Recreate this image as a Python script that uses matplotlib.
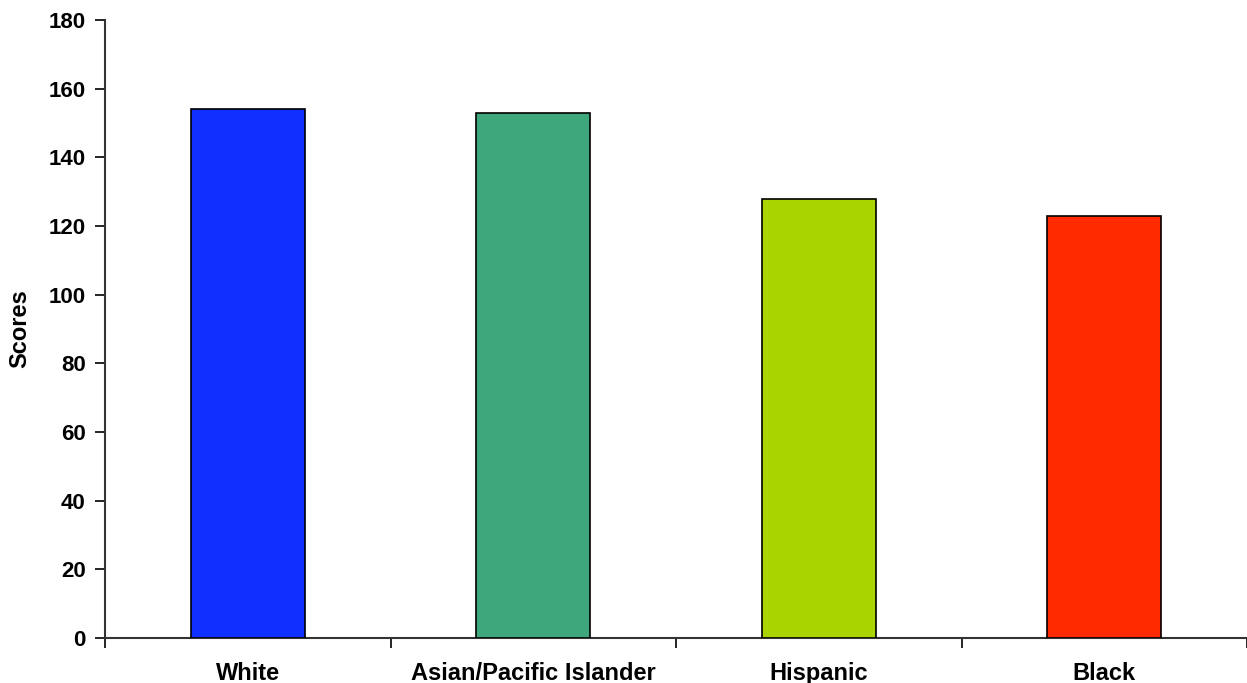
import matplotlib
matplotlib.use("Agg")
import matplotlib.pyplot as plt
from matplotlib.ticker import FixedLocator, NullFormatter

categories = ["White", "Asian/Pacific Islander", "Hispanic", "Black"]
scores = [154, 153, 128, 123]
colors = ["#1030FF", "#3FA77C", "#AAD400", "#FF2A00"]
yticks = [0, 20, 40, 60, 80, 100, 120, 140, 160, 180]

plt.rcParams["font.family"] = ["Liberation Sans", "DejaVu Sans"]

fig = plt.figure(figsize=(12.47, 6.83), dpi=100)
ax = fig.add_axes([105 / 1247, 1 - 638 / 683, 1 - 105 / 1247, (638 - 20) / 683])

pos = [i + 0.5 for i in range(len(categories))]
ax.bar(pos, scores, width=0.4, color=colors, edgecolor="black", linewidth=1.2, zorder=3)

ax.set_xlim(0, len(categories))
ax.set_ylim(0, 180)
ax.set_yticks(yticks)
ax.tick_params(axis="y", direction="out", length=7, width=1.2, labelsize=16, pad=7)
for lbl in ax.get_yticklabels():
    lbl.set_fontweight("bold")

# category names centred under bars, ticks at the category boundaries
ax.xaxis.set_major_locator(FixedLocator(list(range(len(categories) + 1))))
ax.xaxis.set_major_formatter(NullFormatter())
ax.xaxis.set_minor_locator(FixedLocator(pos))
ax.set_xticklabels(categories, minor=True, fontsize=17, fontweight="bold")
ax.tick_params(axis="x", which="major", direction="out", length=7, width=1.2)
ax.tick_params(axis="x", which="minor", length=0, pad=17)

ax.set_ylabel("Scores", fontsize=17, fontweight="bold", labelpad=12)

for side in ["top", "right"]:
    ax.spines[side].set_visible(False)
for side in ["left", "bottom"]:
    ax.spines[side].set_linewidth(1.5)
    ax.spines[side].set_color("#333333")

fig.savefig("out.png", dpi=100)
